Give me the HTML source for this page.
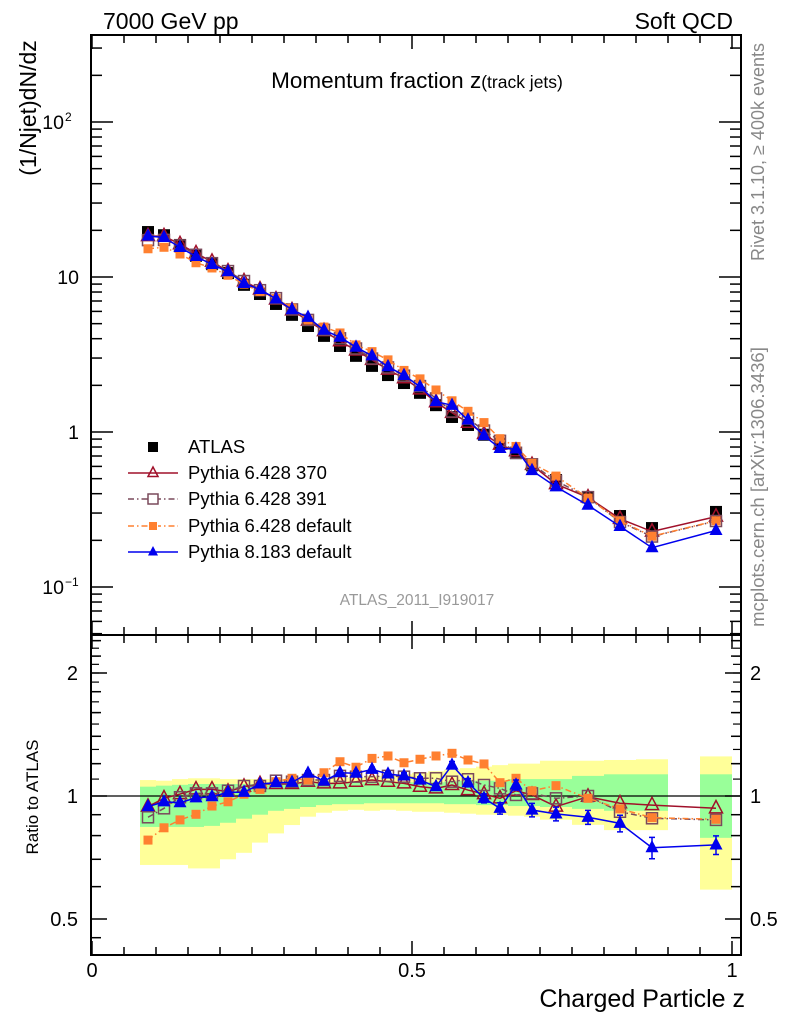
<!DOCTYPE html>
<html><head><meta charset="utf-8">
<style>
html,body{margin:0;padding:0;background:#fff;}
svg{display:block;font-family:"Liberation Sans",Arial,sans-serif;}
</style></head>
<body>
<svg id="chart" width="786" height="1024" xmlns="http://www.w3.org/2000/svg">
<text x="103" y="29" font-size="23">7000 GeV pp</text>
<text x="733" y="29" font-size="23" text-anchor="end">Soft QCD</text>
<text x="417" y="88" font-size="22.5" text-anchor="middle">Momentum fraction <tspan>z</tspan><tspan font-size="17.5">(track jets)</tspan></text>
<text transform="translate(36,108) rotate(-90)" font-size="23" text-anchor="middle">(1/Njet)dN/dz</text>
<text transform="translate(38,797) rotate(-90)" font-size="17" text-anchor="middle">Ratio to ATLAS</text>
<text transform="translate(764,152) rotate(-90)" font-size="18" fill="#888" text-anchor="middle">Rivet 3.1.10, ≥ 400k events</text>
<text transform="translate(764,487) rotate(-90)" font-size="18.5" fill="#888" text-anchor="middle">mcplots.cern.ch [arXiv:1306.3436]</text>
<text x="417" y="605" font-size="15.5" fill="#999" text-anchor="middle">ATLAS_2011_I919017</text>
<text x="745" y="1007" font-size="25" text-anchor="end">Charged Particle z</text>
<g id="g"></g>
</svg>
<script>
const zCenters=[0.0875,0.1125,0.1375,0.1625,0.1875,0.2125,0.2375,0.2625,0.2875,0.3125,0.3375,0.3625,0.3875,0.4125,0.4375,0.4625,0.4875,0.5125,0.5375,0.5625,0.5875,0.6125,0.6375,0.6625,0.6875,0.725,0.775,0.825,0.875,0.975];
const binLo=[0.075,0.1,0.125,0.15,0.175,0.2,0.225,0.25,0.275,0.3,0.325,0.35,0.375,0.4,0.425,0.45,0.475,0.5,0.525,0.55,0.575,0.6,0.625,0.65,0.675,0.7,0.75,0.8,0.85,0.95];
const binHi=[0.1,0.125,0.15,0.175,0.2,0.225,0.25,0.275,0.3,0.325,0.35,0.375,0.4,0.425,0.45,0.475,0.5,0.525,0.55,0.575,0.6,0.625,0.65,0.675,0.7,0.75,0.8,0.85,0.9,1.0];
const atlasValues=[19.5,18.6,16.1,13.7,12.1,10.6,8.9,7.77,6.7,5.7,4.83,4.17,3.59,3.1,2.67,2.33,2.07,1.79,1.49,1.25,1.11,0.96,0.84,0.73,0.61,0.49,0.38,0.287,0.24,0.305];
const ratio370=[0.942,0.987,1.011,1.038,1.038,1.025,1.054,1.07,1.07,1.07,1.084,1.074,1.074,1.084,1.094,1.084,1.074,1.054,1.044,1.064,1.034,1.011,0.987,1.03,1.006,0.942,0.996,0.96,0.95,0.933];
const ratio391=[0.887,0.933,0.993,1.015,1.015,1.03,1.058,1.058,1.09,1.084,1.094,1.094,1.12,1.115,1.115,1.12,1.115,1.105,1.105,1.084,1.099,1.064,1.044,1.006,1.015,0.987,1.0,0.915,0.882,0.874];
const ratioP6def=[0.78,0.836,0.874,0.902,0.945,0.968,1.01,1.038,1.084,1.105,1.094,1.14,1.213,1.176,1.236,1.253,1.206,1.23,1.253,1.272,1.225,1.198,1.078,1.105,1.03,1.06,0.987,0.93,0.885,0.877];
const ratioP8=[0.942,0.968,0.963,0.99,0.996,1.021,1.021,1.07,1.078,1.08,1.137,1.088,1.14,1.137,1.162,1.132,1.12,1.094,1.054,1.19,1.078,0.987,0.933,1.064,0.924,0.904,0.887,0.857,0.747,0.759];
const errP8=[0.01,0.01,0.01,0.01,0.01,0.01,0.01,0.01,0.01,0.01,0.015,0.015,0.015,0.015,0.015,0.015,0.02,0.02,0.02,0.025,0.025,0.025,0.03,0.03,0.035,0.035,0.035,0.04,0.045,0.04];
const greenHi=[1.054,1.06,1.065,1.07,1.07,1.07,1.07,1.07,1.07,1.07,1.075,1.075,1.08,1.08,1.08,1.08,1.08,1.08,1.08,1.085,1.09,1.09,1.09,1.1,1.1,1.1,1.12,1.13,1.13,1.13];
const greenLo=[0.84,0.84,0.84,0.84,0.845,0.86,0.88,0.9,0.92,0.93,0.94,0.95,0.955,0.955,0.96,0.96,0.96,0.96,0.96,0.955,0.955,0.95,0.95,0.945,0.945,0.94,0.93,0.92,0.92,0.79];
const yellowHi=[1.094,1.09,1.1,1.105,1.105,1.1,1.1,1.1,1.1,1.1,1.1,1.1,1.11,1.11,1.12,1.12,1.13,1.14,1.15,1.16,1.17,1.18,1.19,1.2,1.2,1.22,1.22,1.225,1.23,1.25];
const yellowLo=[0.678,0.678,0.678,0.665,0.665,0.7,0.726,0.769,0.81,0.849,0.89,0.91,0.92,0.925,0.92,0.925,0.92,0.915,0.915,0.91,0.905,0.9,0.9,0.895,0.89,0.875,0.85,0.825,0.825,0.59];

const NS="http://www.w3.org/2000/svg";
const G=document.getElementById('g');
const L=91,R=741,T=35,MB=635,RB=955;
function X(z){return 92+z*640;}
function Y(v){return 432-155*Math.log10(v);}
function YR(r){return 796-123*Math.log2(r);}
function mk(tag,at,parent){const e=document.createElementNS(NS,tag);for(const k in at)e.setAttribute(k,at[k]);(parent||G).appendChild(e);return e;}

for(let i=0;i<zCenters.length;i++){
  const b=mk('rect',{x:X(binLo[i]),y:YR(yellowHi[i]),width:X(binHi[i])-X(binLo[i]),height:YR(yellowLo[i])-YR(yellowHi[i]),fill:'#ffff99'});
  
  
  const g2=mk('rect',{x:X(binLo[i]),y:YR(greenHi[i]),width:X(binHi[i])-X(binLo[i]),height:YR(greenLo[i])-YR(greenHi[i]),fill:'#99ff99'});
  
  
}
const ref=mk('line',{x1:L,x2:R,y1:YR(1),y2:YR(1),stroke:'#000','stroke-width':1.2});



const f1=mk('rect',{x:L,y:T,width:R-L,height:MB-T,fill:'none',stroke:'#000','stroke-width':2});


const f2=mk('rect',{x:L,y:MB,width:R-L,height:RB-MB,fill:'none',stroke:'#000','stroke-width':2});



for(let k=0;k<=20;k++){
  const z=k*0.05,x=X(z),len=(k%10==0)?14:8;
  for(const [y0,d] of [[T,1],[MB,-1],[MB,1],[RB,-1]]){
    const t=mk('line',{x1:x,x2:x,y1:y0,y2:y0+d*len,stroke:'#000','stroke-width':1.5});
    
    
  }
}
const xTickLabels=['0','0.5','1'];const xTickVals=[0,0.5,1];
xTickVals.forEach((v,i)=>{const t=mk('text',{x:X(v),y:977,'font-size':20,'text-anchor':'middle'});t.textContent=xTickLabels[i];

});

for(let e=-2;e<=2;e++){for(let m=1;m<=9;m++){const v=m*Math.pow(10,e);const y=Y(v);if(y<T||y>MB)continue;const len=m==1?22:11;
 for(const [x0,d] of [[L,1],[R,-1]]){const t=mk('line',{x1:x0,x2:x0+d*len,y1:y,y2:y,stroke:'#000','stroke-width':1.5});
 
 }}}
const yTickVals=[100,10,1,0.1];
const yTickBase=['10','10','1','10'];const yTickExp=['2','','','−1'];
yTickVals.forEach((v,i)=>{const t=mk('text',{x:yTickExp[i]?64:79,y:Y(v)+7,'font-size':19.5,'text-anchor':'end'});t.textContent=yTickBase[i];
 
 
 if(yTickExp[i]){const s=mk('text',{x:65,y:Y(v)-1,'font-size':12});s.textContent=yTickExp[i];
 
 }});
const rTicks=[0.45,0.5,0.6,0.7,0.8,0.9,1,1.2,1.4,1.6,1.8,2,2.2,2.4];
rTicks.forEach(r=>{const y=YR(r);if(y<MB||y>RB)return;const len=(r==0.5||r==1||r==2)?16:10;
 for(const [x0,d] of [[L,1],[R,-1]]){const t=mk('line',{x1:x0,x2:x0+d*len,y1:y,y2:y,stroke:'#000','stroke-width':1.5});
 
 }});
for(let r=1.1;r<2.5;r+=0.1){const y=YR(r);if(y<MB)continue;for(const [x0,d] of [[L,1],[R,-1]]){const t=mk('line',{x1:x0,x2:x0+d*8,y1:y,y2:y,stroke:'#000','stroke-width':1.2});
 
 }}
const rLabelVals=[2,1,0.5];const rLabels=['2','1','0.5'];
rLabelVals.forEach((v,i)=>{for(const [x,a] of [[78,'end'],[750,'start']]){const t=mk('text',{x:x,y:YR(v)+7,'font-size':20,'text-anchor':a});t.textContent=rLabels[i];
 
 }});

function marker(type,x,y,color,s,parent){
 if(type=='sq') return mk('rect',{x:x-s,y:y-s,width:2*s,height:2*s,fill:color},parent);
 if(type=='osq') return mk('rect',{x:x-s,y:y-s,width:2*s,height:2*s,fill:'none',stroke:color,'stroke-width':1.5},parent);
 if(type=='tri') return mk('polygon',{points:`${x},${y-s*1.2} ${x-s},${y+s*0.7} ${x+s},${y+s*0.7}`,fill:color},parent);
 if(type=='otri') return mk('polygon',{points:`${x},${y-s*1.2} ${x-s},${y+s*0.7} ${x+s},${y+s*0.7}`,fill:'none',stroke:color,'stroke-width':1.5},parent);
}
const series=[
 {name:'pythia6-370',r:ratio370,c:'#a0102a',m:'otri',dash:'',s:6.5},
 {name:'pythia6-391',r:ratio391,c:'#7a4a5c',m:'osq',dash:'6,3,1.5,3',s:5.5},
 {name:'pythia6-default',r:ratioP6def,c:'#ff8030',m:'sq',dash:'6,3,1.5,3',s:4.5},
 {name:'pythia8-default',r:ratioP8,c:'#0000ee',m:'tri',dash:'',s:6.5}
];
atlasValues.forEach((v,i)=>{const m=marker('sq',X(zCenters[i]),Y(v),'#000',6);
 
 });
series.forEach(S=>{
 const mainPts=zCenters.map((z,i)=>X(z)+','+Y(atlasValues[i]*S.r[i])).join(' ');
 const l=mk('polyline',{points:mainPts,fill:'none',stroke:S.c,'stroke-width':1.5,'stroke-dasharray':S.dash});
 
 
 const ratPts=zCenters.map((z,i)=>X(z)+','+YR(S.r[i])).join(' ');
 const l2=mk('polyline',{points:ratPts,fill:'none',stroke:S.c,'stroke-width':1.5,'stroke-dasharray':S.dash});
 
 
 zCenters.forEach((z,i)=>{
  const m=marker(S.m,X(z),Y(atlasValues[i]*S.r[i]),S.c,S.s);
  
  
  if(S.name=='pythia8-default'){
   const e=errP8[i];const x=X(z);
   const eb=mk('path',{d:`M${x},${YR(S.r[i]+e)}V${YR(S.r[i]-e)}M${x-3},${YR(S.r[i]+e)}h6M${x-3},${YR(S.r[i]-e)}h6`,stroke:S.c,'stroke-width':1.5,fill:'none'});
   
   
  }
  const m2=marker(S.m,X(z),YR(S.r[i]),S.c,S.s);
  
  
 });
});

const legNames=['ATLAS','Pythia 6.428 370','Pythia 6.428 391','Pythia 6.428 default','Pythia 8.183 default'];
const legY=[447,473,499,526,552];
legNames.forEach((n,i)=>{
 const g=mk('g',{});
 
 
 const y=legY[i];
 if(i==0){marker('sq',153,y,'#000',5,g);}
 else{const S=series[i-1];mk('line',{x1:128,x2:178,y1:y,y2:y,stroke:S.c,'stroke-width':1.5,'stroke-dasharray':S.dash},g);
  if(S.m=='osq'||S.m=='sq'){mk('rect',{x:148,y:y-5,width:10,height:10,fill:'#fff'},g);}
  marker(S.m,153,y,S.c,S.m=='sq'?4:5,g);}
 const t=mk('text',{x:188,y:y+6,'font-size':18.5},g);t.textContent=n;
});
</script>
</body></html>
